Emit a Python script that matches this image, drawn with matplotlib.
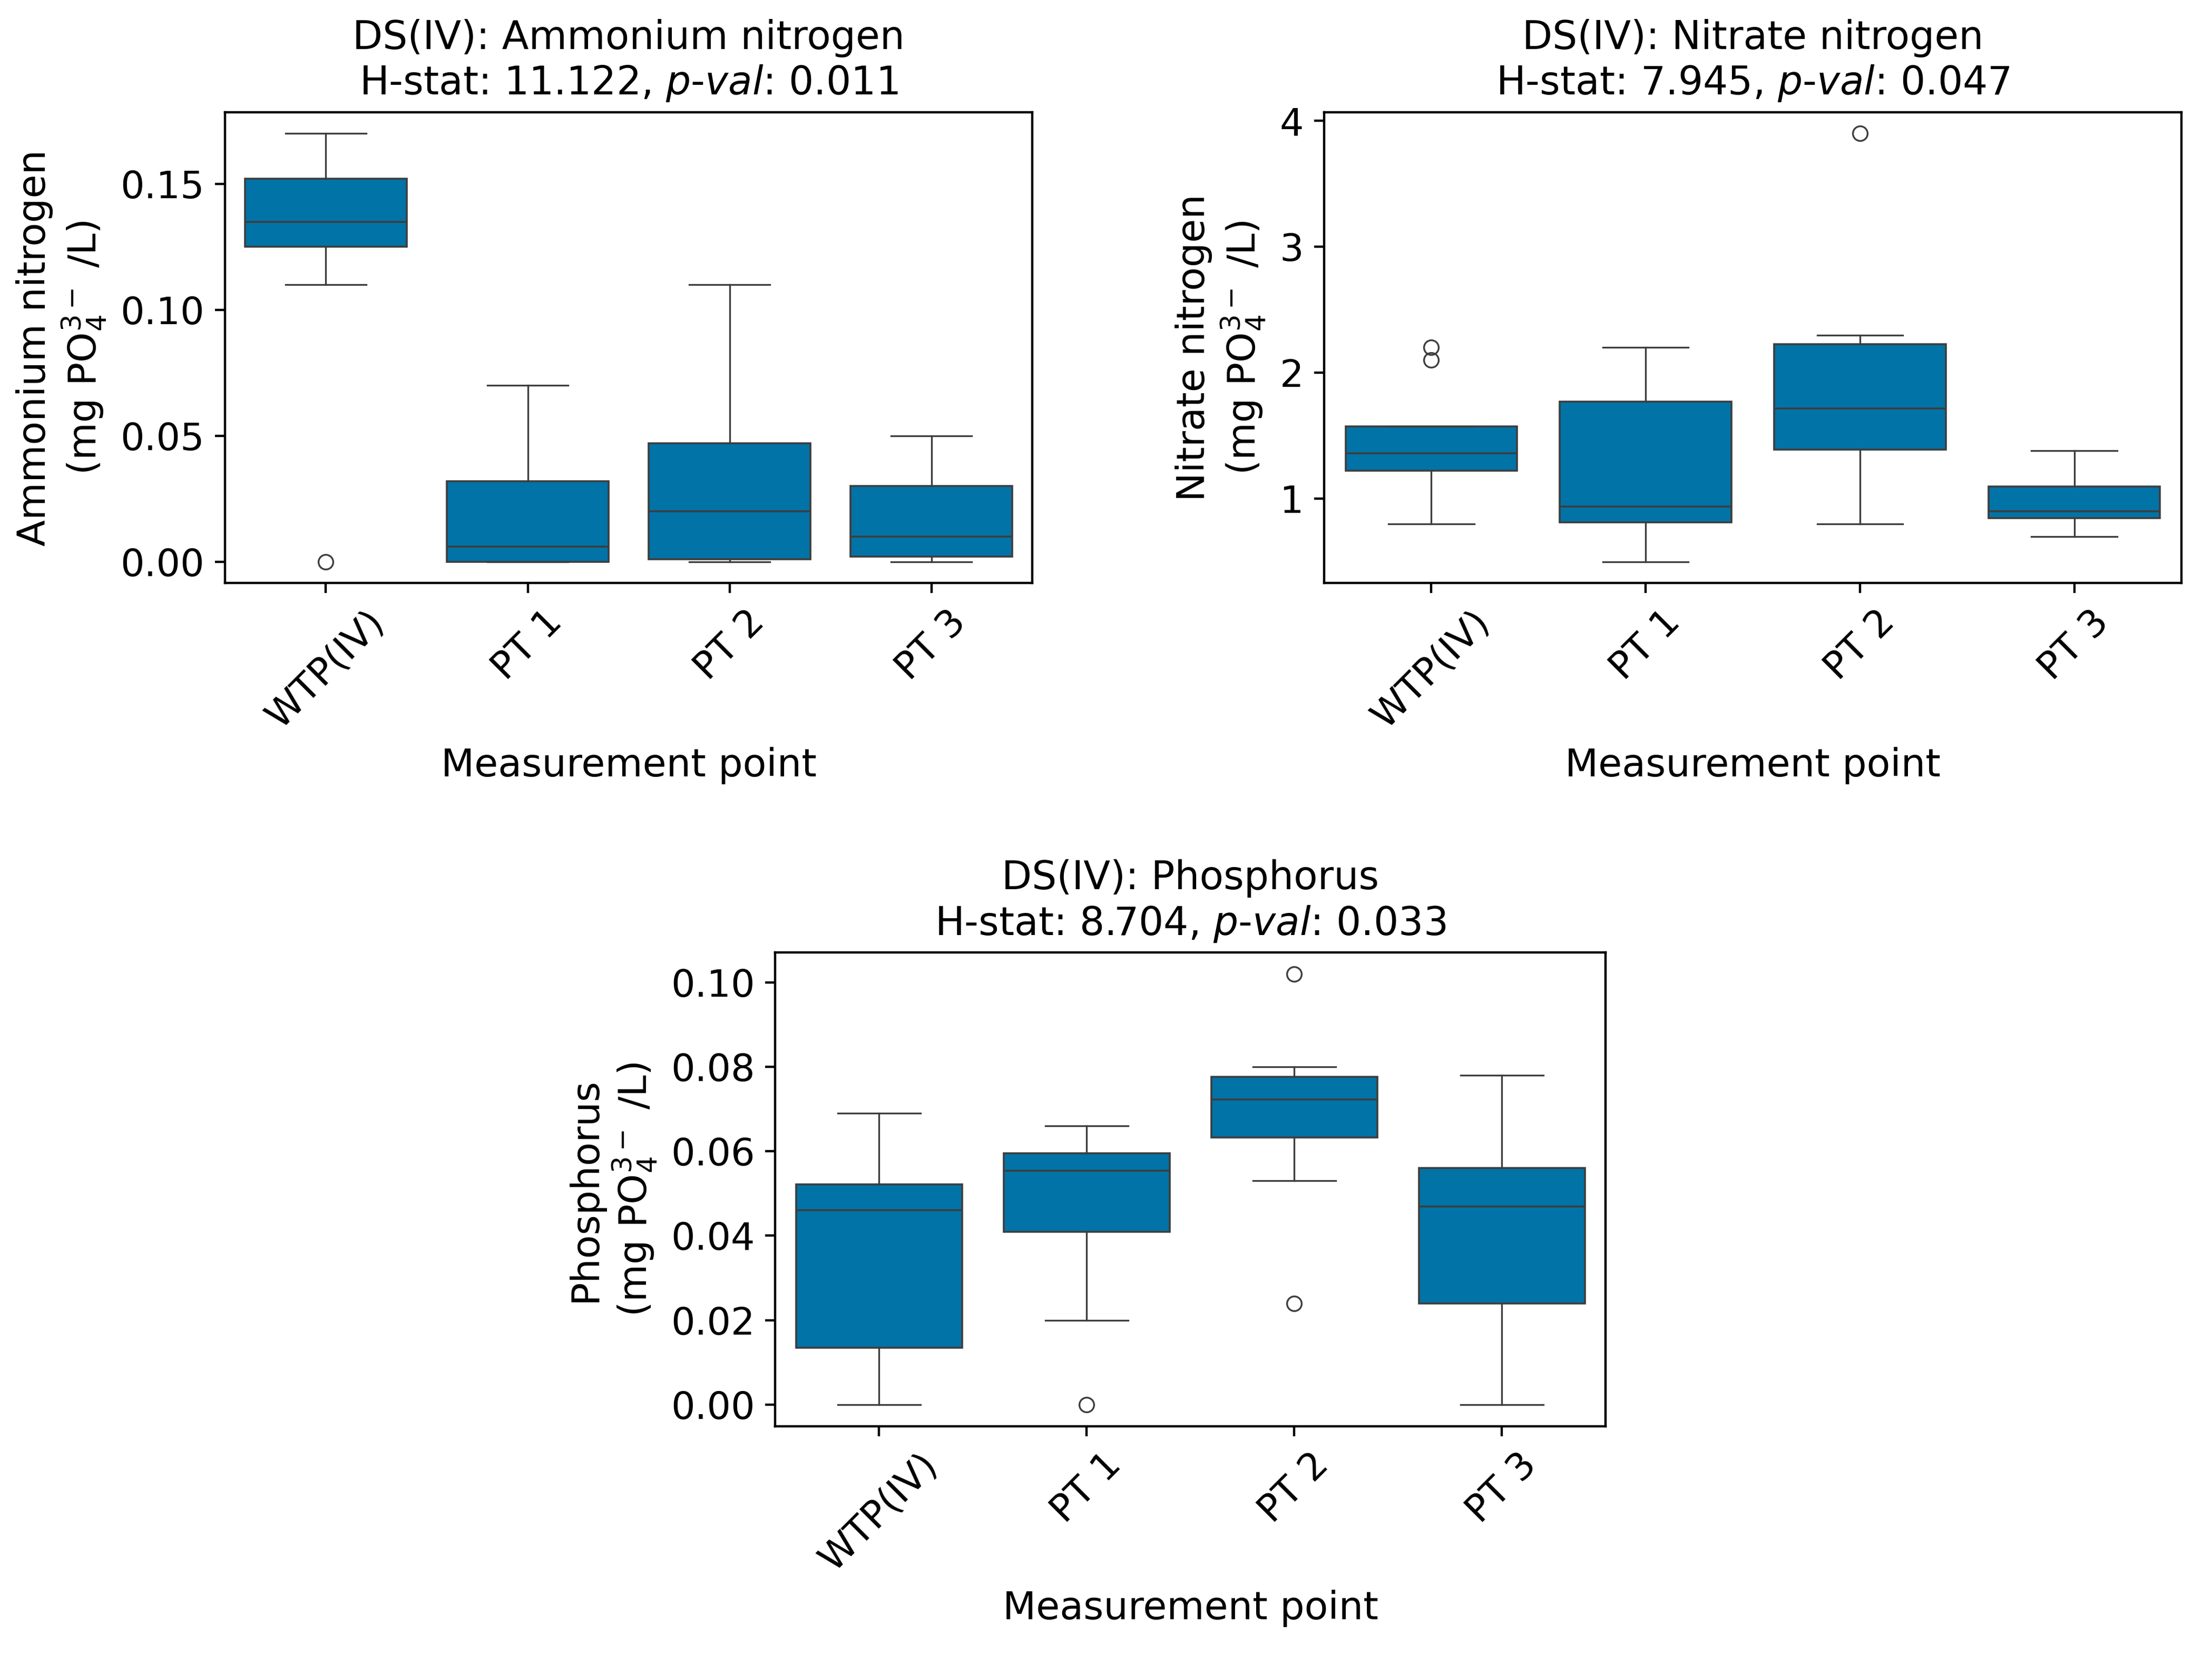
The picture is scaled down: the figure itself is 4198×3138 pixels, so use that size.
import matplotlib
matplotlib.use("Agg")
import matplotlib.pyplot as plt

categories = ["WTP(IV)", "PT 1", "PT 2", "PT 3"]

# Ammonium nitrogen
amm_q1 = [0.125, 0.000, 0.001, 0.002]
amm_med = [0.135, 0.006, 0.020, 0.010]
amm_q3 = [0.152, 0.032, 0.047, 0.030]
amm_lo = [0.110, 0.000, 0.000, 0.000]
amm_hi = [0.170, 0.070, 0.110, 0.050]
amm_fliers = [[0.0], [], [], []]

# Nitrate nitrogen
nit_q1 = [1.224, 0.813, 1.389, 0.844]
nit_med = [1.359, 0.939, 1.717, 0.899]
nit_q3 = [1.573, 1.772, 2.226, 1.095]
nit_lo = [0.80, 0.50, 0.80, 0.70]
nit_hi = [1.573, 2.20, 2.30, 1.383]
nit_fliers = [[2.2, 2.1], [], [3.9], []]

# Phosphorus
pho_q1 = [0.0134, 0.0409, 0.0633, 0.024]
pho_med = [0.046, 0.0554, 0.0723, 0.0469]
pho_q3 = [0.0522, 0.0596, 0.0777, 0.056]
pho_lo = [0.000, 0.020, 0.053, 0.000]
pho_hi = [0.069, 0.066, 0.080, 0.078]
pho_fliers = [[], [0.0], [0.102, 0.024], []]

titles = [
    "DS(IV): Ammonium nitrogen\nH-stat: 11.122, $\\it{p}$-$\\it{val}$: 0.011",
    "DS(IV): Nitrate nitrogen\nH-stat: 7.945, $\\it{p}$-$\\it{val}$: 0.047",
    "DS(IV): Phosphorus\nH-stat: 8.704, $\\it{p}$-$\\it{val}$: 0.033",
]
ylabels = [
    "Ammonium nitrogen\n(mg PO$_4^{3-}$ /L)",
    "Nitrate nitrogen\n(mg PO$_4^{3-}$ /L)",
    "Phosphorus\n(mg PO$_4^{3-}$ /L)",
]
xlabel = "Measurement point"

BOX = "#0173a6"
LINE = "#3d3d3d"

W, H, DPI = 4198, 3138, 400
fig = plt.figure(figsize=(W / DPI, H / DPI), dpi=DPI)

positions = [
    [0.1017, 0.6475, 0.3650, 0.2847],
    [0.5986, 0.6475, 0.3876, 0.2847],
    [0.3505, 0.1378, 0.3754, 0.2863],
]

datasets = [
    (amm_q1, amm_med, amm_q3, amm_lo, amm_hi, amm_fliers),
    (nit_q1, nit_med, nit_q3, nit_lo, nit_hi, nit_fliers),
    (pho_q1, pho_med, pho_q3, pho_lo, pho_hi, pho_fliers),
]

for pos, (q1, med, q3, lo, hi, fl), title, ylab in zip(positions, datasets, titles, ylabels):
    ax = fig.add_axes(pos)
    stats = []
    for i in range(len(categories)):
        stats.append(dict(q1=q1[i], med=med[i], q3=q3[i], whislo=lo[i],
                          whishi=hi[i], fliers=fl[i], label=categories[i]))
    ax.bxp(stats, positions=range(len(categories)), widths=0.8,
           patch_artist=True, showfliers=True,
           boxprops=dict(facecolor=BOX, edgecolor=LINE, linewidth=0.65),
           medianprops=dict(color=LINE, linewidth=0.65),
           whiskerprops=dict(color=LINE, linewidth=0.6),
           capprops=dict(color=LINE, linewidth=0.6),
           flierprops=dict(marker="o", markersize=5, markerfacecolor="none",
                           markeredgecolor=LINE, markeredgewidth=0.6))
    ax.set_xlim(-0.5, len(categories) - 0.5)
    ax.set_xticks(range(len(categories)))
    ax.set_xticklabels(categories, rotation=45, fontsize=12.9)
    ax.tick_params(axis="y", labelsize=12.9)
    ax.set_title(title, fontsize=13.4)
    ax.set_ylabel(ylab, fontsize=13.2)
    ax.set_xlabel(xlabel, fontsize=13.2)
    ax.margins(y=0.05)

fig.savefig("out.png", dpi=DPI)
